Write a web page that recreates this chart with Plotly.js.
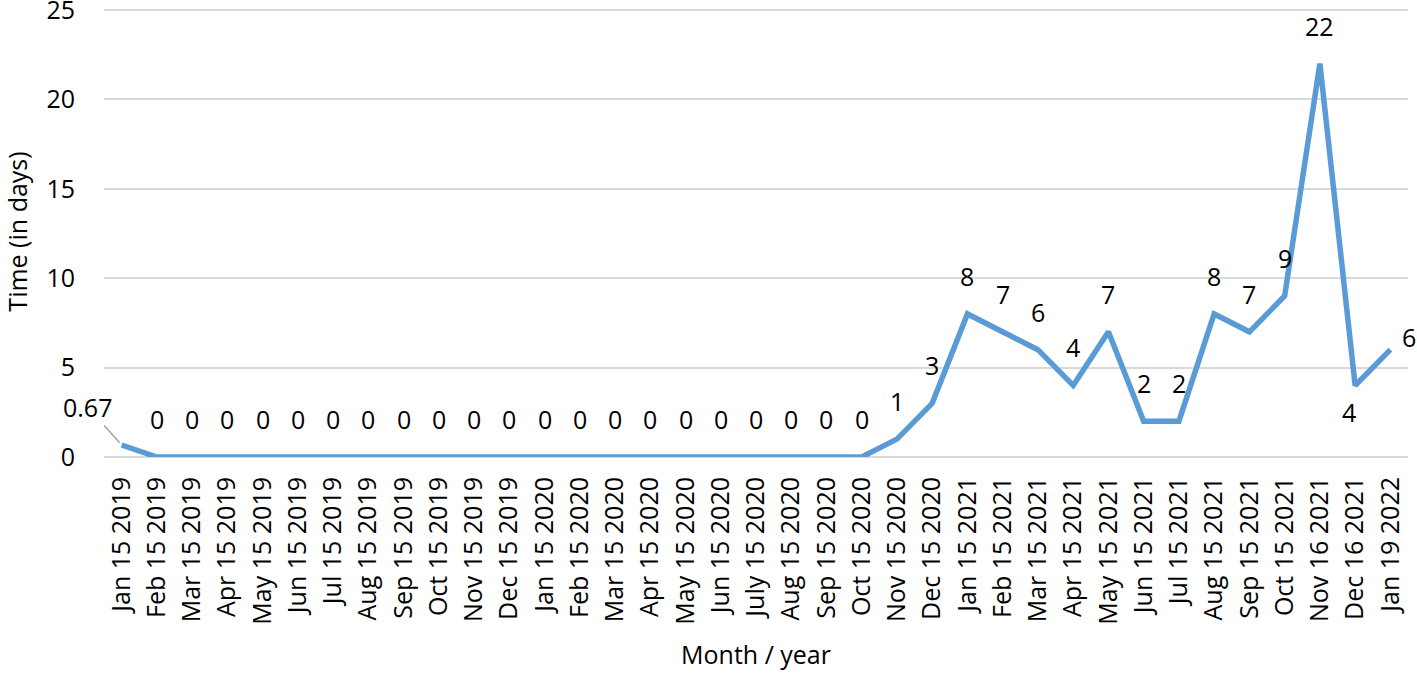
<!DOCTYPE html>
<html>
<head>
<meta charset="utf-8">
<script src="https://cdn.plot.ly/plotly-3.0.1.min.js"></script>
<style>html,body{margin:0;padding:0;background:#fff;}#chart{width:1417px;height:673px;}</style>
</head>
<body>
<div id="chart"></div>
<script>
const categories = ["Jan 15 2019","Feb 15 2019","Mar 15 2019","Apr 15 2019","May 15 2019","Jun 15 2019","Jul 15 2019","Aug 15 2019","Sep 15 2019","Oct 15 2019","Nov 15 2019","Dec 15 2019","Jan 15 2020","Feb 15 2020","Mar 15 2020","Apr 15 2020","May 15 2020","Jun 15 2020","July 15 2020","Aug 15 2020","Sep 15 2020","Oct 15 2020","Nov 15 2020","Dec 15 2020","Jan 15 2021","Feb 15 2021","Mar 15 2021","Apr 15 2021","May 15 2021","Jun 15 2021","Jul 15 2021","Aug 15 2021","Sep 15 2021","Oct 15 2021","Nov 16 2021","Dec 16 2021","Jan 19 2022"];
const timeDays = [0.67,0,0,0,0,0,0,0,0,0,0,0,0,0,0,0,0,0,0,0,0,0,1,3,8,7,6,4,7,2,2,8,7,9,22,4,6];
const yTicks = [0,5,10,15,20,25];
const xTitle = "Month / year";
const yTitle = "Time (in days)";

const FONT = "'Open Sans', sans-serif";
const FS = 25;

// label placement (style only)
const labelStyle = {
  0: {showarrow: true, ax: -34, ay: -38},
  35: {xshift: -6, yshift: -27},
  36: {xshift: 19, yshift: 13}
};

const annotations = categories.map((c, i) => {
  const base = {x: c, y: timeDays[i], xref: 'x', yref: 'y', text: String(timeDays[i]),
    showarrow: false, yshift: 38, font: {family: FONT, size: FS, color: '#000'}};
  const s = labelStyle[i];
  if (s && s.showarrow) {
    return Object.assign(base, {yshift: 0, showarrow: true, ax: s.ax, ay: s.ay, arrowhead: 0,
      arrowwidth: 1.5, arrowcolor: '#A5A5A5', standoff: 3, startstandoff: 0});
  }
  if (s) return Object.assign(base, s);
  return base;
});

const trace = {
  type: 'scatter', mode: 'lines', x: categories, y: timeDays,
  line: {color: '#5B9BD5', width: 5.5, shape: 'linear'},
  hoverinfo: 'none', cliponaxis: false
};

const layout = {
  width: 1417, height: 673,
  margin: {l: 104, r: 9, t: 6, b: 216},
  paper_bgcolor: '#fff', plot_bgcolor: '#fff',
  showlegend: false,
  font: {family: FONT, size: FS, color: '#000'},
  xaxis: {
    type: 'category', range: [-0.5, categories.length - 0.5], autorange: false,
    tickangle: -90, showgrid: false, zeroline: false, showline: false,
    ticks: '', tickfont: {family: FONT, size: FS, color: '#000'},
    ticklabelstandoff: 14, automargin: false,
    title: {text: xTitle, font: {family: FONT, size: FS, color: '#000'}, standoff: 22}
  },
  yaxis: {
    range: [-0.001, 25.22], autorange: false, tickvals: yTicks, ticktext: yTicks.map(String),
    showgrid: true, gridcolor: '#D9D9D9', gridwidth: 2,
    zeroline: true, zerolinecolor: '#D9D9D9', zerolinewidth: 2, showline: false,
    ticks: '', tickfont: {family: FONT, size: FS, color: '#000'},
    ticklabelstandoff: 28, ticklabeloverflow: 'allow', automargin: false,
    title: {text: yTitle, font: {family: FONT, size: FS, color: '#000'}, standoff: 14}
  },
  annotations: annotations
};

Plotly.newPlot('chart', [trace], layout, {displayModeBar: false, staticPlot: true});
</script>
</body>
</html>
